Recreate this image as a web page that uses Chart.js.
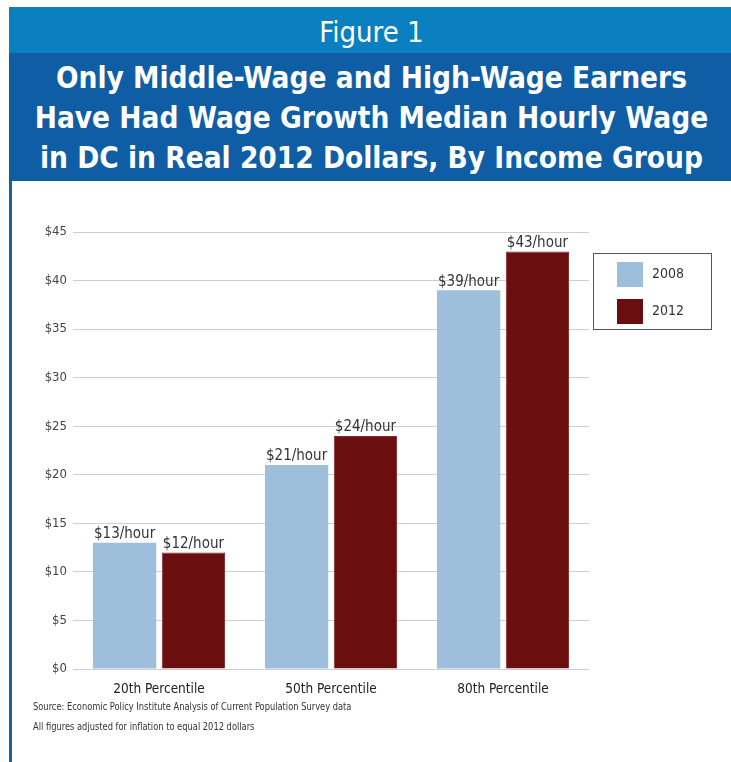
<!DOCTYPE html>
<html>
<head>
<meta charset="utf-8">
<script src="https://cdn.jsdelivr.net/npm/chart.js@4/dist/chart.umd.min.js"></script>
<style>
  html, body { margin: 0; padding: 0; background: #fff; }
  body { width: 731px; height: 762px; position: relative; overflow: hidden;
         font-family: "Liberation Sans Narrow", "DejaVu Sans Condensed", "Liberation Sans", sans-serif; }
  #edge { position: absolute; left: 9px; top: 7px; width: 3px; height: 755px; background: #1562ab; }
  #fig { position: absolute; left: 9px; top: 7px; width: 722px; height: 46px; background: #0b80c0;
         color: #fff; font-size: 29px; text-align: center; line-height: 50px; padding-left: 3px; box-sizing: border-box; }
  #title { position: absolute; left: 9px; top: 53px; width: 722px; height: 128px; background: #0f5ea5;
           color: #fff; font-weight: bold; font-size: 29.5px; text-align: center; line-height: 40px;
           padding-top: 5px; padding-left: 3px; box-sizing: border-box; white-space: nowrap; }
  #wrap { position: absolute; left: 0; top: 181px; width: 731px; height: 581px; }
  #notes { position: absolute; left: 33px; top: 697px; font-size: 11px; color: #333; line-height: 20px;
           white-space: nowrap; transform: scaleX(0.84); transform-origin: left top; }
</style>
</head>
<body>
<div id="edge"></div>
<div id="fig">Figure 1</div>
<div id="title">Only Middle-Wage and High-Wage Earners<br>Have Had Wage Growth Median Hourly Wage<br>in DC in Real 2012 Dollars, By Income Group</div>
<div id="wrap"><canvas id="chart" width="731" height="581"></canvas></div>
<div id="notes">Source: Economic Policy Institute Analysis of Current Population Survey data<br>All figures adjusted for inflation to equal 2012 dollars</div>
<script>
const FONT = '"Liberation Sans Narrow", "DejaVu Sans Condensed", "Liberation Sans", sans-serif';

// median hourly wage, real 2012 dollars
const groups = ["20th Percentile", "50th Percentile", "80th Percentile"];
const years = ["2008", "2012"];
const wage2008 = [13, 21, 39];
const wage2012 = [12, 24, 43];
const yTicks = [0, 5, 10, 15, 20, 25, 30, 35, 40, 45];

const colors = ["#9dbfdb", "#6b0e0f"];

// "$13/hour" style labels over each bar
const barLabels = {
  id: "barLabels",
  afterDatasetsDraw(chart) {
    const ctx = chart.ctx;
    ctx.save();
    ctx.font = "15px " + FONT;
    ctx.fillStyle = "#333";
    ctx.textAlign = "center";
    ctx.textBaseline = "bottom";
    chart.data.datasets.forEach((ds, i) => {
      chart.getDatasetMeta(i).data.forEach((bar, j) => {
        ctx.fillText("$" + ds.data[j] + "/hour", bar.x, bar.y - 1);
      });
    });
    ctx.restore();
  }
};

// boxed legend to the right of the plot
const boxLegend = {
  id: "boxLegend",
  afterDraw(chart) {
    const ctx = chart.ctx;
    const x = 593, y = 72, w = 118, h = 76;
    ctx.save();
    ctx.strokeStyle = "#555";
    ctx.lineWidth = 1;
    ctx.strokeRect(x + 0.5, y + 0.5, w, h);
    ctx.font = "14px " + FONT;
    ctx.textBaseline = "middle";
    chart.data.datasets.forEach((ds, i) => {
      const sy = y + 9 + i * 37;
      ctx.fillStyle = ds.backgroundColor;
      ctx.fillRect(x + 24, sy, 26, 25);
      ctx.fillStyle = "#333";
      ctx.fillText(ds.label, x + 59, sy + 12);
    });
    ctx.restore();
  }
};

new Chart(document.getElementById("chart"), {
  type: "bar",
  data: {
    labels: groups,
    datasets: [
      { label: years[0], data: wage2008, backgroundColor: colors[0] },
      { label: years[1], data: wage2012, backgroundColor: colors[1], borderColor: "#8a2a2a", borderWidth: 1 }
    ]
  },
  options: {
    responsive: false,
    animation: false,
    layout: { padding: { top: 51, right: 142, bottom: 0, left: 0 } },
    datasets: { bar: { categoryPercentage: 0.8, barPercentage: 0.92 } },
    plugins: { legend: { display: false }, tooltip: { enabled: false } },
    scales: {
      x: {
        grid: { display: false, drawTicks: false },
        border: { display: false },
        ticks: { color: "#222", font: { family: FONT, size: 13.5 }, padding: 12 },
        afterFit(s) { s.height = 93; }
      },
      y: {
        min: 0,
        max: 45,
        afterBuildTicks(s) { s.ticks = yTicks.map(v => ({ value: v })); },
        grid: { color: "#cfcfcf", drawTicks: false },
        border: { display: false },
        ticks: {
          color: "#444",
          font: { family: FONT, size: 13 },
          padding: 6,
          callback: v => "$" + v
        },
        afterFit(s) { s.width = 73; }
      }
    }
  },
  plugins: [barLabels, boxLegend]
});
</script>
</body>
</html>
